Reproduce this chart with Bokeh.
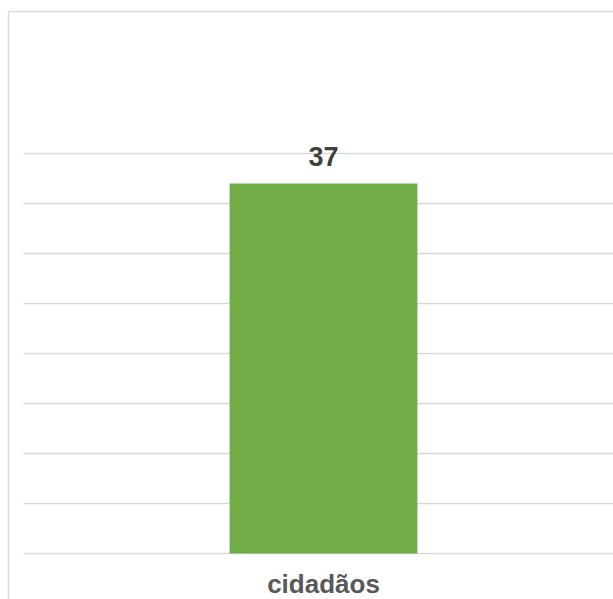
from bokeh.plotting import figure
from bokeh.models import Range1d, FixedTicker, LinearAxis, ColumnDataSource, Grid
from bokeh.core.properties import value
from bokeh.embed import file_html
from bokeh.resources import INLINE

categories = ["cidadãos"]
values = [37]
y_ticks = [0, 5, 10, 15, 20, 25, 30, 35, 40]

xs = list(range(len(categories)))
src = ColumnDataSource(dict(x=xs, top=values, label=[str(v) for v in values],
                            cat=categories, base=[0] * len(xs)))

p = figure(width=613, height=599, output_backend="svg", toolbar_location=None,
           x_range=Range1d(-0.525, 0.4833), y_range=Range1d(-4.6, 54.2),
           x_axis_location=None, y_axis_location=None,
           min_border_left=8, min_border_top=11, min_border_right=0, min_border_bottom=0)
p.xgrid.visible = False
p.ygrid.visible = False
p.outline_line_color = None
p.background_fill_color = "white"
p.border_fill_color = "white"

BORDER = "#d9d9d9"

def plain_axis():
    ax = LinearAxis(ticker=FixedTicker(ticks=[]))
    ax.axis_line_color = BORDER
    ax.axis_line_width = 1.5
    ax.major_tick_line_color = None
    ax.minor_tick_line_color = None
    ax.major_tick_out = 0
    ax.major_tick_in = 0
    ax.minor_tick_out = 0
    ax.minor_tick_in = 0
    ax.major_label_standoff = 0
    ax.major_label_text_font_size = "0px"
    return ax

p.add_layout(plain_axis(), "left")
p.add_layout(plain_axis(), "above")

grid = Grid(dimension=1, ticker=FixedTicker(ticks=y_ticks),
            grid_line_color=BORDER, grid_line_width=1.5,
            cross_bounds=(-0.5, 0.5))
p.add_layout(grid, "center")

p.vbar(x="x", top="top", bottom=0, width=0.313, source=src,
       fill_color="#70ad47", line_color=None)
p.text(x="x", y="top", text="label", source=src, text_align="center",
       text_baseline="alphabetic", y_offset=-27,
       text_font=value("Liberation Sans"), text_font_style="bold",
       text_font_size="27px", text_color="#404040")
# category label under the baseline
p.text(x="x", y="base", text="cat", source=src, text_align="center",
       text_baseline="alphabetic", y_offset=30,
       text_font=value("Liberation Sans"), text_font_style="bold",
       text_font_size="26px", text_color="#595959")

open("out.html", "w").write(file_html(p, INLINE))
